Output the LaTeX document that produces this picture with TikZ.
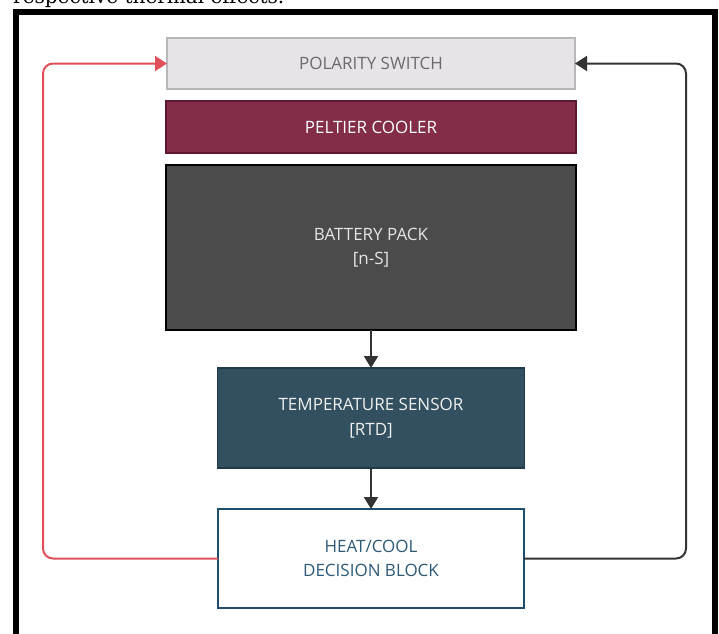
\documentclass[tikz,border=0pt]{standalone}
\usepackage{fontspec}
\setmainfont{Open Sans}
\newfontfamily\pageserif{DejaVu Serif}
\usetikzlibrary{positioning, arrows.meta}
\definecolor{switchfill}{HTML}{E7E3E8}
\definecolor{switchline}{HTML}{B9B7B9}
\definecolor{switchtext}{HTML}{6B6B6B}
\definecolor{coolerfill}{HTML}{832D48}
\definecolor{coolerline}{HTML}{5E1830}
\definecolor{packfill}{HTML}{4B4B4B}
\definecolor{sensorfill}{HTML}{32505F}
\definecolor{sensorline}{HTML}{1F3B4A}
\definecolor{decideline}{HTML}{1D4E6E}
\definecolor{decidetext}{HTML}{2C5A78}
\definecolor{heatred}{HTML}{E0505A}
\definecolor{wiredark}{HTML}{333333}

\begin{document}
\begin{tikzpicture}[x=1pt, y=-1pt,
  block/.style={rectangle, align=center, font=\fontsize{17}{24.5}\selectfont, inner sep=0pt, outer sep=0pt},
  switchbox/.style={block, fill=switchfill, draw=switchline, line width=1.5pt, text=switchtext, minimum width=408pt, minimum height=51pt},
  coolerbox/.style={block, fill=coolerfill, draw=coolerline, line width=1.5pt, text=white, minimum width=410pt, minimum height=52pt},
  packbox/.style={block, fill=packfill, draw=black, line width=2pt, text=white!90!black, minimum width=410pt, minimum height=165pt},
  sensorbox/.style={block, fill=sensorfill, draw=sensorline, line width=1.5pt, text=white!94!black, minimum width=307pt, minimum height=100pt},
  decidebox/.style={block, fill=white, draw=decideline, line width=2pt, text=decidetext, minimum width=306pt, minimum height=99pt},
  flow/.style={draw=wiredark, line width=2pt, -{Triangle[length=12pt,width=14pt]}},
  redloop/.style={draw=heatred, line width=2pt, rounded corners=10pt, -{Triangle[length=12pt,width=15pt]}},
  darkloop/.style={draw=wiredark, line width=2pt, rounded corners=10pt, -{Triangle[length=12pt,width=15pt]}}]
\useasboundingbox (0,0) rectangle (719,633);
\clip (0,0) rectangle (719,633);
\node[anchor=base west, font=\pageserif\fontsize{20}{24}\selectfont, inner sep=0pt] (pagetext) at (13,3.5) {respective thermal effects.};
\draw[line width=6pt, line join=miter] (16,640) -- (16,12) -- (715,12) -- (715,640);

\node[switchbox] (switch) at (371,63.5) {POLARITY SWITCH};
\node[coolerbox, below=12pt of switch] (cooler) {PELTIER COOLER};
\node[packbox, below=12pt of cooler] (pack) {BATTERY PACK\\{}[n-S]};
\node[sensorbox, below=38pt of pack] (sensor) {TEMPERATURE SENSOR\\{}[RTD]};
\node[decidebox, below=41pt of sensor] (decide) {HEAT/COOL\\DECISION BLOCK};

\coordinate (leftrail) at (43,0);
\coordinate (rightrail) at (686,0);

\draw[flow] (pack) -- (sensor);
\draw[flow] (sensor) -- (decide);
\draw[redloop] (decide.west) -- (decide.west -| leftrail) |- (switch.west);
\draw[darkloop] (decide.east) -- (decide.east -| rightrail) |- (switch.east);
\end{tikzpicture}
\end{document}
